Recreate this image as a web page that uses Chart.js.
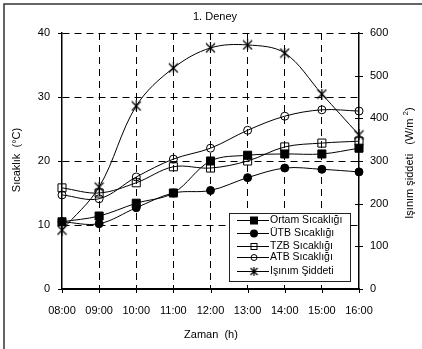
<!DOCTYPE html>
<html>
<head>
<meta charset="utf-8">
<script src="https://cdn.jsdelivr.net/npm/chart.js@4/dist/chart.umd.min.js"></script>
<style>
  html, body { margin: 0; padding: 0; background: #fff; }
  #wrap { position: relative; width: 422px; height: 349px; }
</style>
</head>
<body>
<div id="wrap"><canvas id="chart" width="422" height="349"></canvas></div>
<script>
// values
const hours = ['08:00', '09:00', '10:00', '11:00', '12:00', '13:00', '14:00', '15:00', '16:00'];
const ortam = [10.5, 11.4, 13.4, 15.0, 20.0, 20.9, 21.1, 21.1, 22.0];
const utb = [10.5, 10.2, 12.7, 15.0, 15.4, 17.4, 18.9, 18.7, 18.3];
const tzb = [15.8, 15.0, 16.6, 19.1, 18.9, 20.0, 22.2, 22.8, 23.1];
const atb = [14.7, 14.1, 17.5, 20.3, 22.0, 24.8, 27.0, 28.0, 27.8];
const isinim = [138, 239, 429, 518, 565, 572, 553, 457, 361];

const seriesNames = ['Ortam Sıcaklığı', 'ÜTB Sıcaklığı', 'TZB Sıcaklığı', 'ATB Sıcaklığı', 'Işınım Şiddeti'];
const tempTicks = [0, 10, 20, 30, 40];
const radTicks = [0, 100, 200, 300, 400, 500, 600];

const FONT = "'Liberation Sans', Arial, sans-serif";

// asterisk marker like the one in the picture (X plus vertical bar)
function starMarker(size) {
  const c = document.createElement('canvas');
  c.width = size; c.height = size;
  const g = c.getContext('2d');
  g.strokeStyle = '#000';
  g.lineWidth = 1.2;
  g.beginPath();
  g.moveTo(1, 1); g.lineTo(size - 1, size - 1);
  g.moveTo(size - 1, 1); g.lineTo(1, size - 1);
  g.moveTo(size / 2, 0); g.lineTo(size / 2, size);
  g.stroke();
  return c;
}
const star = starMarker(11);
const starSmall = starMarker(9);

function ds(label, data, style, fill, axis, radius) {
  return {
    label: label,
    data: data,
    yAxisID: axis,
    borderColor: '#000',
    borderWidth: 1,
    pointStyle: style,
    pointRadius: radius,
    pointBorderWidth: 1,
    pointBorderColor: '#000',
    pointBackgroundColor: fill,
    tension: 0.35,
    fill: false
  };
}

const decor = {
  id: 'decor',
  afterDraw(chart) {
    const ctx = chart.ctx;
    const a = chart.chartArea;
    const x = chart.scales.x, y = chart.scales.y, y1 = chart.scales.y1;
    ctx.save();
    ctx.strokeStyle = '#000';
    ctx.lineWidth = 1;
    ctx.setLineDash([]);
    // tick marks
    ctx.beginPath();
    tempTicks.forEach(v => {
      const py = Math.round(y.getPixelForValue(v)) + 0.5;
      ctx.moveTo(a.left - 4, py); ctx.lineTo(a.left, py);
    });
    radTicks.forEach(v => {
      const py = Math.round(y1.getPixelForValue(v)) + 0.5;
      ctx.moveTo(a.right - 4, py); ctx.lineTo(a.right + 4, py);
    });
    hours.forEach((h, i) => {
      const px = Math.round(x.getPixelForValue(i)) + 0.5;
      ctx.moveTo(px, a.bottom); ctx.lineTo(px, a.bottom + 4);
    });
    ctx.stroke();

    // outer frame (only top and left visible in the picture)
    ctx.strokeStyle = '#333';
    ctx.lineWidth = 1.5;
    ctx.beginPath();
    ctx.moveTo(4, 349); ctx.lineTo(4, 4); ctx.lineTo(422, 4);
    ctx.stroke();

    // texts
    ctx.fillStyle = '#000';
    ctx.font = '11px ' + FONT;
    ctx.textAlign = 'center';
    ctx.textBaseline = 'middle';
    ctx.fillText('1. Deney', 215, 17);
    ctx.fillText('Zaman  (h)', 211, 335);

    ctx.save();
    ctx.translate(17, 160);
    ctx.rotate(-Math.PI / 2);
    ctx.fillText('Sıcaklık  (°C)', 0, 0);
    ctx.restore();

    ctx.save();
    ctx.translate(410, 163);
    ctx.rotate(-Math.PI / 2);
    const main = 'Işınım şiddeti   (W/m ';
    const w1 = ctx.measureText(main).width;
    ctx.font = '8px ' + FONT;
    const w2 = ctx.measureText('2').width;
    ctx.font = '11px ' + FONT;
    const w3 = ctx.measureText(')').width;
    let sx = -(w1 + w2 + w3) / 2;
    ctx.textAlign = 'left';
    ctx.fillText(main, sx, 0);
    ctx.font = '8px ' + FONT;
    ctx.fillText('2', sx + w1, -4);
    ctx.font = '11px ' + FONT;
    ctx.fillText(')', sx + w1 + w2, 0);
    ctx.restore();

    // legend box
    const bx = 229.5, by = 213.5, bw = 121, bh = 68;
    ctx.fillStyle = '#fff';
    ctx.fillRect(bx, by, bw, bh);
    ctx.strokeStyle = '#222';
    ctx.lineWidth = 1;
    ctx.strokeRect(bx, by, bw, bh);
    const rows = [220, 233, 246, 257, 271];
    ctx.font = '10.5px ' + FONT;
    ctx.textAlign = 'left';
    chart.data.datasets.forEach((d, i) => {
      const ry = rows[i] + 0.5;
      ctx.strokeStyle = '#000';
      ctx.lineWidth = 1;
      ctx.beginPath();
      ctx.moveTo(237, ry); ctx.lineTo(269, ry);
      ctx.stroke();
      const cx = 254;
      if (d.pointStyle === 'rect') {
        const s = i === 0 ? 8 : 6;
        if (d.pointBackgroundColor !== 'transparent') {
          ctx.fillStyle = '#000';
          ctx.fillRect(cx - s / 2, ry - s / 2, s, s);
        } else {
          ctx.strokeRect(cx - s / 2, ry - s / 2, s, s);
        }
      } else if (d.pointStyle === 'circle') {
        const r = i === 1 ? 4 : 3;
        ctx.beginPath();
        ctx.arc(cx, ry, r, 0, Math.PI * 2);
        if (d.pointBackgroundColor !== 'transparent') {
          ctx.fillStyle = '#000';
          ctx.fill();
        } else {
          ctx.stroke();
        }
      } else {
        ctx.drawImage(starSmall, cx - 4.5, ry - 4.5);
      }
      ctx.fillStyle = '#000';
      ctx.fillText(d.label, 270, ry);
    });
    ctx.restore();
  }
};

new Chart(document.getElementById('chart'), {
  type: 'line',
  data: {
    labels: hours,
    datasets: [
      ds(seriesNames[0], ortam, 'rect', '#000', 'y', 5.7),
      ds(seriesNames[1], utb, 'circle', '#000', 'y', 4),
      ds(seriesNames[2], tzb, 'rect', 'transparent', 'y', 5.7),
      ds(seriesNames[3], atb, 'circle', 'transparent', 'y', 4),
      ds(seriesNames[4], isinim, star, 'transparent', 'y1', 5)
    ]
  },
  options: {
    responsive: false,
    animation: false,
    layout: { padding: { top: 33, left: 0, right: 0, bottom: 0 } },
    plugins: { legend: { display: false }, tooltip: { enabled: false }, title: { display: false } },
    scales: {
      x: {
        type: 'category',
        offset: false,
        afterFit: s => { s.height = 60; },
        grid: {
          color: c => (c.index === 0 || c.index === hours.length - 1) ? 'rgba(0,0,0,0)' : '#000',
          lineWidth: 1,
          drawTicks: false
        },
        border: { display: true, color: '#000', width: 2, dash: [7, 5] },
        ticks: { color: '#000', font: { family: FONT, size: 11 }, padding: 15, maxRotation: 0, autoSkip: false }
      },
      y: {
        position: 'left',
        min: 0, max: 40,
        afterFit: s => { s.width = 62; },
        afterBuildTicks: s => { s.ticks = tempTicks.map(v => ({ value: v })); },
        grid: {
          color: c => (c.tick && c.tick.value === 0) ? 'rgba(0,0,0,0)' : '#000',
          lineWidth: 1,
          drawTicks: false
        },
        border: { display: true, color: '#000', width: 1.5, dash: [7, 5] },
        ticks: { color: '#000', font: { family: FONT, size: 11 }, padding: 12 }
      },
      y1: {
        position: 'right',
        min: 0, max: 600,
        afterFit: s => { s.width = 63; },
        afterBuildTicks: s => { s.ticks = radTicks.map(v => ({ value: v })); },
        grid: { display: false, drawTicks: false },
        border: { display: true, color: '#000', width: 1.5 },
        ticks: { color: '#000', font: { family: FONT, size: 11 }, padding: 11 }
      }
    }
  },
  plugins: [decor]
});
</script>
</body>
</html>
